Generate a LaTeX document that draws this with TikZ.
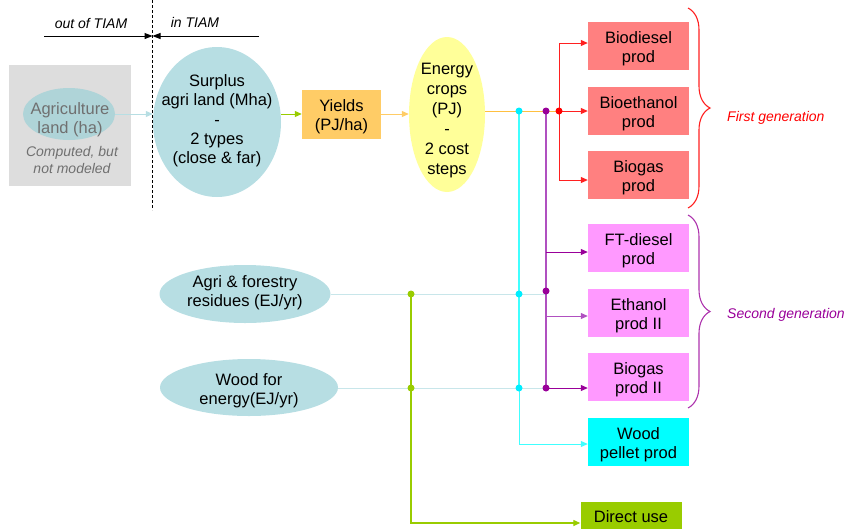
\documentclass[tikz,border=0pt]{standalone}
\usepackage{fontspec}
\setmainfont{Liberation Sans}
\usetikzlibrary{arrows.meta,shapes.geometric,decorations.pathreplacing}
\definecolor{graybg}{HTML}{DDDDDD}
\definecolor{agell}{HTML}{AFD4D8}
\definecolor{tealell}{HTML}{B7DEE3}
\definecolor{tealline}{HTML}{C8E6EA}
\definecolor{graytxt}{HTML}{707070}
\definecolor{yieldc}{HTML}{FFCC66}
\definecolor{ecc}{HTML}{FFFF99}
\definecolor{orangel}{HTML}{FFC040}
\definecolor{greenc}{HTML}{99CC00}
\definecolor{cyanl}{HTML}{40FFFF}
\definecolor{cyand}{HTML}{00EEFF}
\definecolor{purpl}{HTML}{B050C0}
\definecolor{purpd}{HTML}{990099}
\definecolor{redl}{HTML}{FF2020}
\definecolor{firstc}{HTML}{FF8080}
\definecolor{secc}{HTML}{FF99FF}
\definecolor{pelc}{HTML}{00FFFF}
\newcommand{\bxt}[2]{\rule{0pt}{17.5pt}#1\\#2}
\begin{document}
\begin{tikzpicture}[x=1pt,y=-1pt,
  base/.style={font=\fontsize{16.5}{19.3}\selectfont, align=center, inner sep=0},
  bx/.style={base, rectangle, minimum width=101, minimum height=48},
  ell/.style={ellipse, inner sep=0},
  lab/.style={font=\fontsize{14}{17}\selectfont\itshape, inner sep=0, align=center},
  dot/.style={circle, inner sep=0, minimum size=7},
  arr/.style={-{Triangle[length=7pt,width=6pt]}},
  ln/.style={line width=1pt},
  brc/.style={decorate, decoration={brace, amplitude=22pt}, line width=1.1pt}]
\useasboundingbox (0,0) rectangle (848,528);
\clip (0,0) rectangle (848,528);

% header
\coordinate (divtop) at (152.5,0);
\coordinate (divbot) at (152.5,210);
\draw[line width=0.9pt, dash pattern=on 3pt off 2pt] (divtop) -- (divbot);
\coordinate (outL) at (44,36);
\coordinate (inR) at (259,36);
\draw[ln, -{Triangle[length=8pt,width=6pt]}] (outL) -- (outL -| divtop);
\draw[ln, -{Triangle[length=8pt,width=6pt]}] (inR) -- (inR -| divtop);
\node[lab] (outT) at (91,23) {out of TIAM};
\node[lab] (inT) at (195,22) {in TIAM};

% left grey block
\node[rectangle, fill=graybg, minimum width=122, minimum height=121, inner sep=0] (grayb) at (70,125.5) {};
\node[ell, fill=agell, minimum width=92, minimum height=52] (agland) at (69,114) {};
\node[base, text=graytxt] (aglandT) at (70,119.5) {Agriculture\\land (ha)};
\node[lab, text=graytxt, font=\fontsize{14}{16.5}\selectfont\itshape] (compT) at (72,160) {Computed, but\\not modeled};

% main chain
\node[ell, fill=tealell, minimum width=128, minimum height=150] (surplus) at (217,122) {};
\node[base] (surplusT) at (217,121) {Surplus\\agri land (Mha)\\-\\2 types\\(close \& far)};
\node[bx, fill=yieldc, minimum width=79, minimum height=49] (yields) at (341.5,114) {\bxt{Yields}{(PJ/ha)}};
\node[ell, fill=ecc, minimum width=76, minimum height=155] (ec) at (447,114.5) {};
\node[base, font=\fontsize{16.5}{20}\selectfont] (ecT) at (447,121) {Energy\\crops\\(PJ)\\-\\2 cost\\steps};

\draw[ln, color=tealell, arr] (agland.east) -- (agland.east -| surplus.west);
\draw[ln, color=greenc, arr] (surplus.east |- yields) -- (yields.west);
\draw[ln, color=yieldc, arr] (yields.east) -- (yields.east -| ec.west);

% residues and wood
\node[ell, fill=tealell, minimum width=171, minimum height=58] (agres) at (245,294) {};
\node[base] (agresT) at (245,293) {Agri \& forestry\\residues (EJ/yr)};
\node[ell, fill=tealell, minimum width=178, minimum height=57] (wood) at (249,387.5) {};
\node[base] (woodT) at (249,391) {Wood for\\energy(EJ/yr)};

% target boxes
\node[bx, fill=firstc] (bd) at (638.5,46) {\bxt{Biodiesel}{prod}};
\node[bx, fill=firstc] (be) at (638.5,111) {\bxt{Bioethanol}{prod}};
\node[bx, fill=firstc] (bg) at (638.5,175) {\bxt{Biogas}{prod}};
\node[bx, fill=secc] (ft) at (638.5,248) {\bxt{FT-diesel}{prod}};
\node[bx, fill=secc] (e2) at (638.5,313) {\bxt{Ethanol}{prod II}};
\node[bx, fill=secc] (b2) at (638.5,377) {\bxt{Biogas}{prod II}};
\node[bx, fill=pelc] (wp) at (638.5,442) {\bxt{Wood}{pellet prod}};
\node[base, rectangle, fill=greenc, minimum width=101, minimum height=30] (du) at (631,517) {Direct use};

% junction coordinates
\coordinate (jc) at (519,111);
\coordinate (jp) at (546,111);
\coordinate (jr) at (559,111);
\coordinate (jga) at (411,294);
\coordinate (jca) at (519,294);
\coordinate (jpa) at (546,294);
\coordinate (jgw) at (411,388);
\coordinate (jcw) at (519,388);
\coordinate (jpw) at (546,388);

% energy crop line
\draw[ln, color=orangel] (ec.east |- jr) -- (jr);
% residue / wood lines
\draw[ln, color=tealline] (agres.east |- jpa) -- (jpa);
\draw[ln, color=tealline] (wood.east |- jpw) -- (jpw);

% red branch
\draw[ln, color=redl, arr] (jr) |- ([yshift=3pt]bd.west);
\draw[ln, color=redl, arr] (jr) -- (be.west);
\draw[ln, color=redl, arr] (jr) |- ([yshift=-5pt]bg.west);

% cyan branch
\draw[line width=1.6pt, color=cyanl] (jc) -- (jca) -- (jcw);
\draw[ln, color=cyanl, arr] (jcw) |- ([yshift=-2pt]wp.west);

% purple branch
\draw[line width=1.6pt, color=purpl] (jp) -- (jpw);
\draw[ln, color=purpd, arr] ([yshift=-4pt]ft.west -| jp) -- ([yshift=-4pt]ft.west);
\draw[ln, color=purpl, arr] ([yshift=-3pt]e2.west -| jp) -- ([yshift=-3pt]e2.west);
\draw[ln, color=purpd, arr] (jpw) -- (jpw -| b2.west);

% green branch
\draw[line width=1.3pt, color=greenc] (jga) -- (jgw);
\draw[line width=1.3pt, color=greenc, arr] (jgw) |- ([yshift=-6pt]du.west);

% dots
\node[dot, fill=cyand] (dc) at (jc) {};
\node[dot, fill=purpd] (dp) at (jp) {};
\node[dot, fill=red] (dr) at (jr) {};
\node[dot, fill=greenc] (dga) at (jga) {};
\node[dot, fill=cyand] (dca) at (jca) {};
\node[dot, fill=purpd] (dpa) at ([yshift=3pt]jpa) {};
\node[dot, fill=greenc] (dgw) at (jgw) {};
\node[dot, fill=cyand] (dcw) at (jcw) {};
\node[dot, fill=purpd] (dpw) at (jpw) {};

% braces
\coordinate (b1t) at (688,8);
\coordinate (b1b) at (688,208);
\coordinate (b2t) at (688,215);
\coordinate (b2b) at (688,408);
\draw[brc, color=redl] (b1t) -- (b1b);
\draw[brc, color=purpd!80] (b2t) -- (b2b);
\node[lab, anchor=west, text=red] (firstT) at (727,118) {First generation};
\node[lab, anchor=west, text=purpd] (secT) at (727,315) {Second generation};
\end{tikzpicture}
\end{document}
